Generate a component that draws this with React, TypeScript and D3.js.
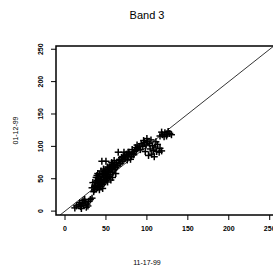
import React from "react";
import * as d3 from "d3";

const title = "Band 3";
const xTitle = "11-17-99";
const yTitle = "01-12-99";
const xTicks = [0, 50, 100, 150, 200, 250];
const yTicks = [0, 50, 100, 150, 200, 250];

const lowCluster: [number, number][] = [
  [14, 8], [17, 10], [19, 7], [21, 12], [23, 9], [25, 14], [27, 11], [22, 16],
  [18, 13], [29, 15], [31, 18], [26, 6], [20, 4], [33, 20], [12, 5], [24, 18],
  [28, 8],
];
const blob: [number, number][] = [
  [35, 30], [38, 34], [40, 36], [42, 33], [37, 40], [40, 42], [44, 38], [46, 41],
  [43, 45], [39, 47], [41, 50], [45, 48], [48, 44], [50, 47], [47, 52], [44, 54],
  [42, 57], [46, 58], [49, 55], [52, 50], [54, 53], [51, 57], [48, 61], [53, 60],
  [56, 56], [55, 62], [50, 64], [58, 60], [57, 66], [52, 68], [60, 64], [59, 69],
  [55, 71], [62, 67], [61, 72], [57, 75], [64, 70], [63, 75], [66, 73], [60, 78],
  [45, 77], [50, 77], [36, 38], [34, 44], [38, 52], [41, 40], [46, 35], [33, 36],
  [48, 48], [52, 45], [56, 48], [62, 58], [58, 52], [44, 62], [40, 58], [37, 45],
  [39, 55], [43, 49], [47, 46], [51, 52], [53, 64], [47, 65], [42, 43], [36, 33],
  [49, 58], [54, 67], [58, 72], [44, 44], [50, 60], [41, 46],
];
const tail: [number, number][] = [
  [66, 78], [68, 74], [70, 77], [72, 80], [69, 83], [74, 82], [76, 79], [73, 86],
  [77, 85], [79, 88], [81, 84], [78, 91], [83, 89], [85, 92], [82, 95], [87, 94],
  [86, 98], [89, 97], [91, 100], [88, 102], [65, 91], [72, 91], [77, 91], [92, 95],
  [84, 87], [80, 80], [71, 84], [75, 88], [67, 80],
];
const rightCluster: [number, number][] = [
  [93, 104], [95, 100], [97, 106], [99, 102], [96, 109], [101, 107], [103, 104],
  [100, 112], [105, 110], [104, 96], [107, 101], [110, 99], [108, 94], [112, 92],
  [115, 91], [116, 97], [113, 103], [111, 107], [118, 93], [106, 88], [98, 92],
  [102, 86], [109, 84],
];
const topCluster: [number, number][] = [
  [116, 116], [119, 118], [122, 121], [125, 119], [128, 120], [121, 115],
  [126, 123], [130, 118], [118, 122], [124, 116],
];

const points = [...lowCluster, ...blob, ...tail, ...rightCluster, ...topCluster];

export default function App() {
  const W = 273, H = 276;
  const left = 56, right = 282, top = 46, bottom = 215;
  const x = d3.scaleLinear().domain([-11, 265]).range([left, right]);
  const y = d3.scaleLinear().domain([-6, 255]).range([bottom, top]);
  const font = "Liberation Sans, Arial, sans-serif";
  const cx = 147;
  const cy = (top + bottom) / 2;
  const lineGen = d3.line<[number, number]>().x(d => x(d[0])).y(d => y(d[1]));
  const s = 3.5;
  return (
    <svg width={W} height={H} style={{ position: "absolute", left: 0, top: 0, background: "#fff" }}>
      <defs>
        <clipPath id="plotclip">
          <rect x={left} y={top} width={right - left} height={bottom - top} />
        </clipPath>
      </defs>
      <rect x={0} y={0} width={W} height={H} fill="#fff" />
      <text x={cx} y={19} textAnchor="middle" fontFamily={font} fontSize={11}>{title}</text>
      <g clipPath="url(#plotclip)">
        <path d={lineGen([[-20, -20], [300, 300]]) || ""} stroke="#000" strokeWidth={0.8} fill="none" />
        {points.map((p, i) => (
          <g key={i} stroke="#000" strokeWidth={1.5}>
            <line x1={x(p[0]) - s} x2={x(p[0]) + s} y1={y(p[1])} y2={y(p[1])} />
            <line x1={x(p[0])} x2={x(p[0])} y1={y(p[1]) - s} y2={y(p[1]) + s} />
          </g>
        ))}
      </g>
      <rect x={left} y={top} width={right - left} height={bottom - top} fill="none" stroke="#000" strokeWidth={1.5} />
      {xTicks.map(t => (
        <g key={"x" + t}>
          <line x1={x(t)} x2={x(t)} y1={bottom} y2={bottom + 5} stroke="#000" strokeWidth={1} />
          <text x={x(t)} y={231} textAnchor="middle" fontFamily={font} fontSize={7} fontWeight="bold">{t}</text>
        </g>
      ))}
      {yTicks.map(t => (
        <g key={"y" + t}>
          <line x1={left} x2={left - 5} y1={y(t)} y2={y(t)} stroke="#000" strokeWidth={1} />
          <text transform={`translate(${43},${y(t)}) rotate(-90)`} textAnchor="middle" fontFamily={font} fontSize={7} fontWeight="bold">{t}</text>
        </g>
      ))}
      <text x={cx} y={265} textAnchor="middle" fontFamily={font} fontSize={7}>{xTitle}</text>
      <text transform={`translate(${18},${cy}) rotate(-90)`} textAnchor="middle" fontFamily={font} fontSize={7}>{yTitle}</text>
    </svg>
  );
}
